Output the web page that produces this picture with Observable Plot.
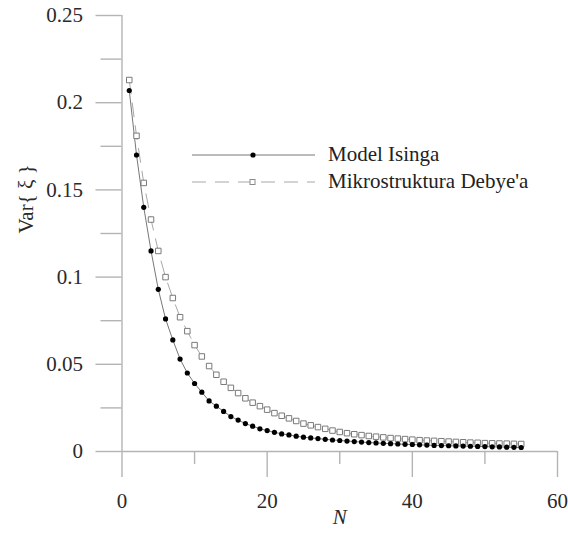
<!DOCTYPE html>
<html>
<head>
<meta charset="utf-8">
<script src="https://cdn.jsdelivr.net/npm/d3@7"></script>
<script src="https://cdn.jsdelivr.net/npm/@observablehq/plot@0.6"></script>
<style>
  body { margin: 0; background: #fff; }
  #wrap { position: relative; width: 568px; height: 535px; font-family: "Liberation Serif", Tinos, "Nimbus Roman", "DejaVu Serif", serif; }
  #wrap svg text { font-family: "Liberation Serif", Tinos, "Nimbus Roman", "DejaVu Serif", serif; }
  #legend { position: absolute; left: 192px; top: 141px; font-size: 21px; color: #222; }
  #legend .row { display: flex; align-items: center; height: 27px; white-space: nowrap; }
  #legend svg { margin-right: 13px; }
</style>
</head>
<body>
<div id="wrap">
  <div id="chart"></div>
  <div id="legend"></div>
</div>
<script>
const N = d3.range(1, 56);
const isingValues = [
  0.207, 0.170, 0.140, 0.115, 0.093, 0.076, 0.064, 0.053, 0.045, 0.039,
  0.034, 0.029, 0.026, 0.023, 0.020, 0.018, 0.016, 0.0145, 0.013, 0.012,
  0.011, 0.0101, 0.0095, 0.0088, 0.0082, 0.0078, 0.0074, 0.0070, 0.0066, 0.0063,
  0.0060, 0.0057, 0.0054, 0.0051, 0.0049, 0.0047, 0.0045, 0.0043, 0.0041, 0.0040,
  0.0038, 0.0037, 0.0035, 0.0034, 0.0033, 0.0032, 0.0031, 0.0030, 0.0029, 0.0028,
  0.0027, 0.0026, 0.0025, 0.0024, 0.0023
];
const debyeValues = [
  0.213, 0.181, 0.154, 0.133, 0.115, 0.100, 0.088, 0.077, 0.069, 0.061,
  0.0545, 0.049, 0.044, 0.040, 0.0365, 0.0335, 0.0305, 0.028, 0.026, 0.024,
  0.022, 0.0205, 0.019, 0.0175, 0.016, 0.015, 0.014, 0.013, 0.012, 0.0112,
  0.0105, 0.0099, 0.0094, 0.0089, 0.0085, 0.0081, 0.0077, 0.0074, 0.0071, 0.0068,
  0.0065, 0.0063, 0.0061, 0.0059, 0.0057, 0.0055, 0.0053, 0.0051, 0.0050, 0.0048,
  0.0047, 0.0046, 0.0045, 0.0044, 0.0043
];
const seriesNames = ["Model Isinga", "Mikrostruktura Debye'a"];
const xMajor = [0, 20, 40, 60];
const xMinor = [10, 30, 50];
const yMajor = [0, 0.05, 0.1, 0.15, 0.2, 0.25];
const yMinor = [0.025, 0.075, 0.125, 0.175, 0.225];
const yTickLabels = ["0", "0.05", "0.1", "0.15", "0.2", "0.25"];

const ising = N.map((n, i) => ({N: n, v: isingValues[i]}));
const debye = N.map((n, i) => ({N: n, v: debyeValues[i]}));

const axisGray = "#b4b4b4";
const textColor = "#2a2a2a";
const serifFont = "'Liberation Serif', Tinos, 'Nimbus Roman', 'DejaVu Serif', serif";

const chart = Plot.plot({
  width: 568,
  height: 535,
  marginLeft: 121.5,
  marginRight: 11,
  marginTop: 15,
  marginBottom: 84,
  style: {fontFamily: serifFont, fontSize: "21px", background: "#fff"},
  x: {domain: [0, 60]},
  y: {domain: [0, 0.25]},
  marks: [
    Plot.axisY(yMajor, {tickSize: 26, tickPadding: 13, stroke: axisGray, strokeWidth: 1.4, fill: textColor,
      tickFormat: d => yTickLabels[yMajor.indexOf(d)], label: null, fontSize: 21}),
    Plot.axisY(yMinor, {tickSize: 21, stroke: axisGray, strokeWidth: 1.4, fill: "none", label: null}),
    Plot.axisX(xMajor, {tickSize: 26, tickPadding: 16, stroke: axisGray, strokeWidth: 1.4, fill: textColor,
      tickFormat: d => String(d), label: null, fontSize: 21}),
    Plot.axisX(xMinor, {tickSize: 13, stroke: axisGray, strokeWidth: 1.4, fill: "none", label: null}),
    Plot.ruleY([0], {stroke: axisGray, strokeWidth: 1.4}),
    Plot.ruleX([0], {stroke: axisGray, strokeWidth: 1.4}),
    Plot.line(debye, {x: "N", y: "v", stroke: "#a8a8a8", strokeWidth: 1, strokeDasharray: "14,9"}),
    Plot.line(ising, {x: "N", y: "v", stroke: "#777", strokeWidth: 1}),
    Plot.dot(debye, {x: "N", y: "v", symbol: "square", r: 3.1, stroke: "#7a7a7a", strokeWidth: 1, fill: "#fff"}),
    Plot.dot(ising, {x: "N", y: "v", r: 2.6, fill: "#000", stroke: "none"}),
    Plot.text(["Var{ ξ }"], {frameAnchor: "left", dx: -96, rotate: -90, fill: textColor, fontSize: 21}),
    Plot.text(["N"], {frameAnchor: "bottom", dy: 72, fill: textColor, fontSize: 21, fontStyle: "italic"})
  ]
});
document.getElementById("chart").appendChild(chart);

// Legend
const legend = d3.select("#legend");
const styles = [
  {stroke: "#777", dash: null, marker: "dot"},
  {stroke: "#a8a8a8", dash: "14,9", marker: "square"}
];
seriesNames.forEach((name, i) => {
  const row = legend.append("div").attr("class", "row");
  const svg = row.append("svg").attr("width", 123).attr("height", 14);
  svg.append("line").attr("x1", 0).attr("x2", 123).attr("y1", 7).attr("y2", 7)
    .attr("stroke", styles[i].stroke).attr("stroke-width", 1)
    .attr("stroke-dasharray", styles[i].dash);
  if (styles[i].marker === "dot") {
    svg.append("circle").attr("cx", 61).attr("cy", 7).attr("r", 2.6).attr("fill", "#000");
  } else {
    svg.append("rect").attr("x", 58).attr("y", 4.5).attr("width", 5).attr("height", 5)
      .attr("fill", "#fff").attr("stroke", "#8a8a8a").attr("stroke-width", 1);
  }
  row.append("span").text(name);
});
</script>
</body>
</html>
